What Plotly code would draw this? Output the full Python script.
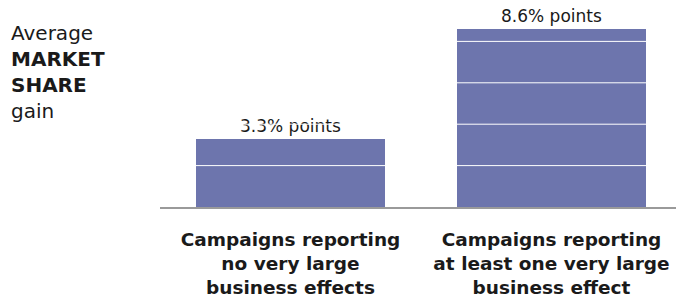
import plotly.graph_objects as go

categories = [
    "Campaigns reporting<br>no very large<br>business effects",
    "Campaigns reporting<br>at least one very large<br>business effect",
]
values = [3.3, 8.6]
value_labels = ["3.3% points", "8.6% points"]
grid_values = [2, 4, 6, 8]

W, H = 676, 303
ML, MR, MT, MB = 160, 0, 0, 96
PW, PH = W - ML - MR, H - MT - MB

BAR_COLOR = "#6d75ad"
TEXT = "#1a1a1a"
FONT = "DejaVu Sans"

fig = go.Figure()
fig.add_trace(go.Bar(
    x=[0, 1], y=values, width=0.726,
    marker=dict(color=BAR_COLOR, line=dict(width=0)),
    text=value_labels, textposition="outside",
    textfont=dict(family=FONT, size=17, color=TEXT),
    cliponaxis=False, hoverinfo="skip",
))

for g in grid_values:
    fig.add_shape(type="line", xref="paper", yref="y", x0=0, x1=1, y0=g, y1=g,
                  line=dict(color="white", width=1), layer="above")

# left title
fig.add_annotation(
    xref="paper", yref="paper",
    x=(9 - ML) / PW, y=1 - (72 - MT) / PH,
    xanchor="left", yanchor="middle", align="left", showarrow=False,
    text="Average<br><b>MARKET</b><br><b>SHARE</b><br>gain",
    font=dict(family=FONT, size=20, color=TEXT),
)

fig.update_layout(
    width=W, height=H,
    margin=dict(l=ML, r=MR, t=MT, b=MB),
    paper_bgcolor="white", plot_bgcolor="white",
    showlegend=False, bargap=0,
    xaxis=dict(
        range=[-0.5, -0.5 + PW / 261], tickmode="array", tickvals=[0, 1],
        ticktext=["<b>%s</b>" % c for c in categories],
        showgrid=False, zeroline=False, showline=True,
        linecolor="#9a9a9a", linewidth=1.5, ticks="",
        tickfont=dict(family=FONT, size=18.5, color=TEXT),
        ticklabelstandoff=15,
    ),
    yaxis=dict(range=[0, 10], showgrid=False, zeroline=False,
               showticklabels=False, showline=False, ticks=""),
)

fig.write_html(
    "out.html",
    config={"displayModeBar": False},
    post_script="document.body.style.margin='0';document.body.style.overflow='hidden';",
)
